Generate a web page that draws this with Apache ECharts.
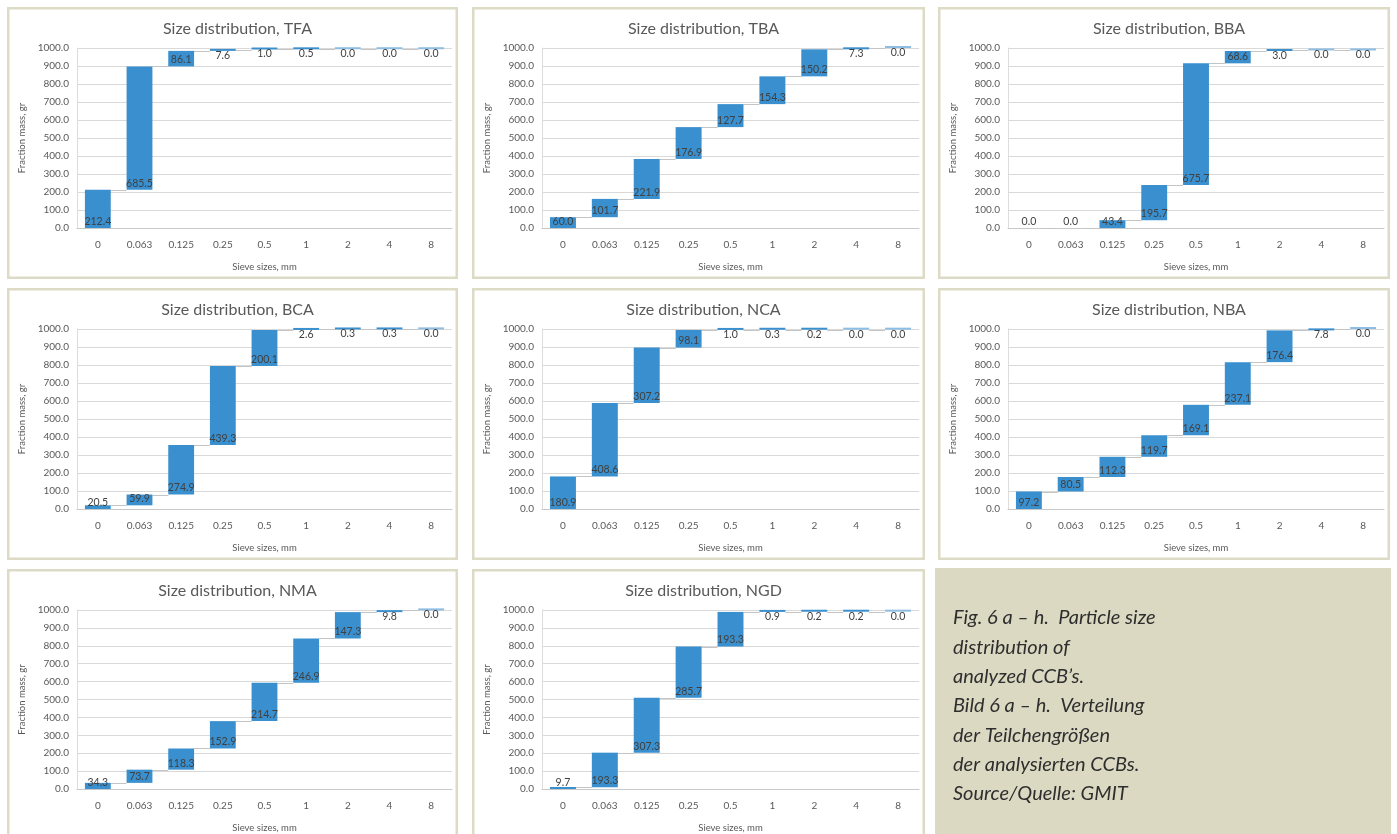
<!DOCTYPE html>
<html>
<head>
<meta charset="utf-8">
<script src="https://cdn.jsdelivr.net/npm/echarts@6/dist/echarts.min.js"></script>
<style>
  html, body { margin: 0; padding: 0; background: #ffffff; }
  #chart { width: 1397px; height: 834px; }
</style>
</head>
<body>
<div id="chart"></div>
<script>
// Sieve classes (mm) shared by every panel
const sieveSizes = ['0', '0.063', '0.125', '0.25', '0.5', '1', '2', '4', '8'];

// Fraction mass per sieve class, grams
const tfa = [212.4, 685.5, 86.1, 7.6, 1.0, 0.5, 0.0, 0.0, 0.0];
const tba = [60.0, 101.7, 221.9, 176.9, 127.7, 154.3, 150.2, 7.3, 0.0];
const bba = [0.0, 0.0, 43.4, 195.7, 675.7, 68.6, 3.0, 0.0, 0.0];
const bca = [20.5, 59.9, 274.9, 439.3, 200.1, 2.6, 0.3, 0.3, 0.0];
const nca = [180.9, 408.6, 307.2, 98.1, 1.0, 0.3, 0.2, 0.0, 0.0];
const nba = [97.2, 80.5, 112.3, 119.7, 169.1, 237.1, 176.4, 7.8, 0.0];
const nma = [34.3, 73.7, 118.3, 152.9, 214.7, 246.9, 147.3, 9.8, 0.0];
const ngd = [9.7, 193.3, 307.3, 285.7, 193.3, 0.9, 0.2, 0.2, 0.0];

const materials = ['TFA', 'TBA', 'BBA', 'BCA', 'NCA', 'NBA', 'NMA', 'NGD'];
const fractions = [tfa, tba, bba, bca, nca, nba, nma, ngd];

// Value axis ticks
const massMin = 0;
const massMax = 1000;
const massStep = 100;

const captionLines = [
  'Fig. 6 a \u2013 h.  Particle size',
  'distribution of',
  'analyzed CCB\u2019s.',
  'Bild 6 a \u2013 h.  Verteilung',
  'der Teilchengr\u00f6\u00dfen',
  'der analysierten CCBs.',
  'Source/Quelle: GMIT'
];

// ---- page layout (px) ----
const cols = [[7, 458], [472, 925], [938, 1390]];
const rows = [[7, 279], [288, 560], [569, 841]];
const FONT = 'Lato, "Open Sans", sans-serif';
const BAR_BLUE = '#3a8fce';
const BAR_EMPTY = '#8dbde2';
const TEXT_GREY = '#595959';
const PANEL_EDGE = '#dddbc6';

const chart = echarts.init(document.getElementById('chart'), null, { renderer: 'canvas' });

const grids = [], xAxes = [], yAxes = [], titles = [], series = [], graphics = [];

fractions.forEach((vals, k) => {
  const col = cols[k % 3];
  const row = rows[Math.floor(k / 3)];
  const w = col[1] - col[0];

  // panel frame
  graphics.push({
    type: 'rect', silent: true, z: -10,
    shape: { x: col[0] + 1.25, y: row[0] + 1.25, width: w - 2.5, height: row[1] - row[0] - 2.5 },
    style: { fill: '#ffffff', stroke: PANEL_EDGE, lineWidth: 2.5 }
  });

  titles.push({
    text: 'Size distribution, ' + materials[k],
    left: (col[0] + col[1]) / 2,
    top: row[0] + 9,
    textAlign: 'center',
    textStyle: { fontFamily: FONT, fontSize: 16, fontWeight: 'normal', color: TEXT_GREY }
  });

  grids.push({
    left: col[0] + 70,
    top: row[0] + 41,
    width: w - 76,
    height: 180,
    containLabel: false
  });

  xAxes.push({
    type: 'category',
    gridIndex: k,
    data: sieveSizes,
    name: 'Sieve sizes, mm',
    nameLocation: 'middle',
    nameGap: 34,
    nameTextStyle: { fontFamily: FONT, fontSize: 9.5, color: TEXT_GREY },
    axisLine: { show: true, lineStyle: { color: '#c8c8c8', width: 1 } },
    axisTick: { show: false },
    axisLabel: { fontFamily: FONT, fontSize: 10, color: TEXT_GREY, margin: 12 },
    splitLine: { show: false }
  });

  yAxes.push({
    type: 'value',
    gridIndex: k,
    min: massMin,
    max: massMax,
    interval: massStep,
    name: 'Fraction mass, gr',
    nameLocation: 'middle',
    nameGap: 50,
    nameRotate: 90,
    nameTextStyle: { fontFamily: FONT, fontSize: 9.5, color: TEXT_GREY },
    axisLine: { show: true, lineStyle: { color: '#dcdcdc', width: 1 } },
    axisTick: { show: false },
    axisLabel: {
      fontFamily: FONT, fontSize: 10, color: TEXT_GREY, margin: 8,
      formatter: v => v.toFixed(1)
    },
    splitLine: { show: true, lineStyle: { color: '#d9d9d9', width: 1 } }
  });

  // running totals: each bar starts where the previous one ended
  const bases = [];
  let run = 0;
  vals.forEach(v => { bases.push(run); run += v; });

  const stackId = 'wf' + k;
  series.push({
    type: 'bar',
    xAxisIndex: k, yAxisIndex: k,
    stack: stackId,
    data: bases,
    barCategoryGap: '38%',
    itemStyle: { color: 'transparent' },
    emphasis: { disabled: true },
    clip: false,
    silent: true
  });
  series.push({
    type: 'bar',
    xAxisIndex: k, yAxisIndex: k,
    stack: stackId,
    barCategoryGap: '38%',
    barMinHeight: 2,
    clip: false,
    itemStyle: { color: BAR_BLUE },
    data: vals.map((v, i) => {
      const item = {
        value: v,
        label: { position: bases[i] > 940 ? 'insideTop' : 'insideBottom', distance: 1 }
      };
      // empty classes show only as a faint sliver (none on the baseline)
      if (v === 0) item.itemStyle = { color: bases[i] === 0 ? 'transparent' : BAR_EMPTY };
      return item;
    }),
    label: {
      show: true,
      fontFamily: FONT,
      fontSize: 10.5,
      color: '#404040',
      formatter: p => Number(p.value).toFixed(1)
    }
  });

  // thin connectors from the top of each bar to the next bar
  series.push({
    type: 'custom',
    xAxisIndex: k, yAxisIndex: k,
    silent: true,
    clip: false,
    z: 1,
    data: vals.slice(0, -1).map((v, i) => [i, bases[i] + v]),
    renderItem: (params, api) => {
      const i = api.value(0);
      const level = api.value(1);
      const a = api.coord([i, level]);
      const b = api.coord([i + 1, level]);
      const half = api.size([1, 0])[0] * 0.31;
      return {
        type: 'line',
        shape: { x1: a[0] + half, y1: Math.round(a[1]) + 0.5, x2: b[0] - half, y2: Math.round(b[1]) + 0.5 },
        style: { stroke: '#c4c4c4', lineWidth: 1 }
      };
    }
  });
});

// caption box
graphics.push({
  type: 'rect', silent: true, z: -10,
  shape: { x: 935, y: 568, width: 456, height: 270 },
  style: { fill: '#dcd9c3' }
});
captionLines.forEach((line, i) => {
  graphics.push({
    type: 'text', silent: true,
    x: 953,
    y: 618 + i * 29.3,
    style: {
      text: line,
      font: 'italic 20px Lato, "Open Sans", sans-serif',
      fill: '#2e2e2e',
      textVerticalAlign: 'middle',
      textAlign: 'left'
    }
  });
});

chart.setOption({
  animation: false,
  backgroundColor: '#ffffff',
  title: titles,
  grid: grids,
  xAxis: xAxes,
  yAxis: yAxes,
  series: series,
  graphic: { elements: graphics }
});
</script>
</body>
</html>
